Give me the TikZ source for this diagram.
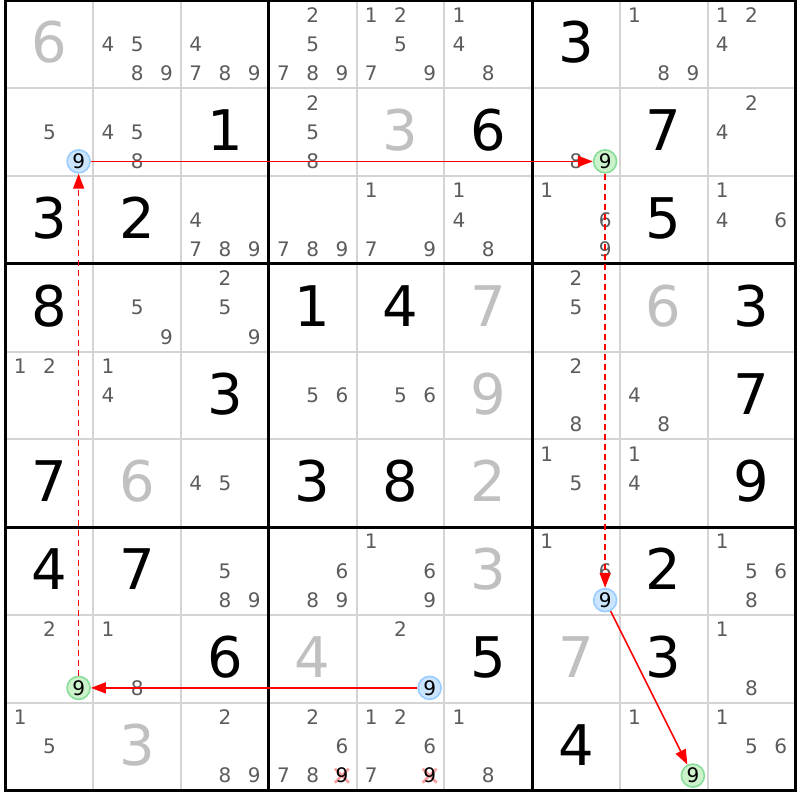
\documentclass[tikz,border=0pt]{standalone}
\usepackage{fontspec}
\setmainfont{DejaVu Sans}
\usetikzlibrary{arrows.meta}
\definecolor{givengray}{HTML}{C0C0C0}
\definecolor{candgray}{HTML}{5C5C5C}
\definecolor{gridgray}{HTML}{D4D4D4}
\definecolor{bluefill}{HTML}{CCE5FF}
\definecolor{blueedge}{HTML}{99CCFF}
\definecolor{greenfill}{HTML}{CCF2CC}
\definecolor{greenedge}{HTML}{88DD99}
\definecolor{xpink}{HTML}{F8A0A0}
\definecolor{linkred}{HTML}{FF0000}
\newcommand\cw{87.75}
\newcommand\gx{5.5}
\newcommand\gy{0.5}
\tikzset{
  bigdigit/.style={anchor=base, inner sep=0pt, font=\fontsize{56}{56}\selectfont},
  givendigit/.style={bigdigit, text=givengray},
  solveddigit/.style={bigdigit, text=black},
  canddigit/.style={anchor=base, inner sep=0pt, font=\fontsize{20}{20}\selectfont, text=candgray},
  elimdigit/.style={canddigit, text=black},
  hlblue/.style={circle, inner sep=0pt, minimum size=23pt, line width=1.6pt, draw=blueedge, fill=bluefill, font=\fontsize{20}{20}\selectfont, text=black},
  hlgreen/.style={hlblue, draw=greenedge, fill=greenfill},
  link/.style={draw=linkred, line width=1.6pt, -{Triangle[length=15pt,width=11pt]}},
  weaklink/.style={link, dash pattern=on 6pt off 4pt},
  thingrid/.style={gridgray, line width=2pt},
  thickgrid/.style={black, line width=3pt},
  elimx/.style={xpink, line width=2.5pt},
}
% big digit: style, row, col, digit
\newcommand\bigd[4]{\node[#1] (d-#2-#3) at ({\gx+(#3-0.5)*\cw},{\gy+(#2-1)*\cw+62.5}) {#4};}
% candidates: row, col, list
\newcommand\cand[3]{%
  \foreach \cd in {#3}{%
    \pgfmathtruncatemacro\subc{mod(\cd-1,3)}%
    \pgfmathtruncatemacro\subr{div(\cd-1,3)}%
    \node[canddigit] (c-#1-#2-\cd) at ({\gx+(#2-1)*\cw+\cw/6+\subc*\cw/3},{\gy+(#1-1)*\cw+\cw/6+\subr*\cw/3+7.3}) {\cd};
  }}
% highlighted candidate: style, name, row, col, digit
\newcommand\hlcand[5]{%
  \pgfmathtruncatemacro\subc{mod(#5-1,3)}%
  \pgfmathtruncatemacro\subr{div(#5-1,3)}%
  \node[#1] (#2) at ({\gx+(#4-1)*\cw+\cw/6+\subc*\cw/3},{\gy+(#3-1)*\cw+\cw/6+\subr*\cw/3}) {#5};}
% eliminated candidate: row, col, digit
\newcommand\elimcand[3]{%
  \pgfmathtruncatemacro\subc{mod(#3-1,3)}%
  \pgfmathtruncatemacro\subr{div(#3-1,3)}%
  \coordinate (x-#1-#2) at ({\gx+(#2-1)*\cw+\cw/6+\subc*\cw/3},{\gy+(#1-1)*\cw+\cw/6+\subr*\cw/3});
  \draw[elimx] (x-#1-#2) +(-7,-7) -- +(7,7) (x-#1-#2) +(-7,7) -- +(7,-7);
  \node[elimdigit] (e-#1-#2) at ({\gx+(#2-1)*\cw+\cw/6+\subc*\cw/3},{\gy+(#1-1)*\cw+\cw/6+\subr*\cw/3+7.3}) {#3};}
\begin{document}
\begin{tikzpicture}[x=1pt, y=-1pt]
\useasboundingbox (0,0) rectangle (800,800);
\fill[white] (0,0) rectangle (800,800);
% grid
\foreach \i in {1,...,8}{
  \draw[thingrid] ({\gx+\i*\cw},\gy) -- ({\gx+\i*\cw},{\gy+9*\cw});
  \draw[thingrid] (\gx,{\gy+\i*\cw}) -- ({\gx+9*\cw},{\gy+\i*\cw});
}
\foreach \i in {3,6}{
  \draw[thickgrid] ({\gx+\i*\cw},\gy) -- ({\gx+\i*\cw},{\gy+9*\cw});
  \draw[thickgrid] (\gx,{\gy+\i*\cw}) -- ({\gx+9*\cw},{\gy+\i*\cw});
}
\draw[thickgrid] (\gx,\gy) rectangle ({\gx+9*\cw},{\gy+9*\cw});
% given (gray) digits
\bigd{givendigit}{1}{1}{6}
\bigd{givendigit}{2}{5}{3}
\bigd{givendigit}{4}{6}{7}
\bigd{givendigit}{4}{8}{6}
\bigd{givendigit}{5}{6}{9}
\bigd{givendigit}{6}{2}{6}
\bigd{givendigit}{6}{6}{2}
\bigd{givendigit}{7}{6}{3}
\bigd{givendigit}{8}{4}{4}
\bigd{givendigit}{8}{7}{7}
\bigd{givendigit}{9}{2}{3}
% black digits
\bigd{solveddigit}{1}{7}{3}
\bigd{solveddigit}{2}{3}{1}
\bigd{solveddigit}{2}{6}{6}
\bigd{solveddigit}{2}{8}{7}
\bigd{solveddigit}{3}{1}{3}
\bigd{solveddigit}{3}{2}{2}
\bigd{solveddigit}{3}{8}{5}
\bigd{solveddigit}{4}{1}{8}
\bigd{solveddigit}{4}{4}{1}
\bigd{solveddigit}{4}{5}{4}
\bigd{solveddigit}{4}{9}{3}
\bigd{solveddigit}{5}{3}{3}
\bigd{solveddigit}{5}{9}{7}
\bigd{solveddigit}{6}{1}{7}
\bigd{solveddigit}{6}{4}{3}
\bigd{solveddigit}{6}{5}{8}
\bigd{solveddigit}{6}{9}{9}
\bigd{solveddigit}{7}{1}{4}
\bigd{solveddigit}{7}{2}{7}
\bigd{solveddigit}{7}{8}{2}
\bigd{solveddigit}{8}{3}{6}
\bigd{solveddigit}{8}{6}{5}
\bigd{solveddigit}{8}{8}{3}
\bigd{solveddigit}{9}{7}{4}
% candidates
\cand{1}{2}{4,5,8,9}
\cand{1}{3}{4,7,8,9}
\cand{1}{4}{2,5,7,8,9}
\cand{1}{5}{1,2,5,7,9}
\cand{1}{6}{1,4,8}
\cand{1}{8}{1,8,9}
\cand{1}{9}{1,2,4}
\cand{2}{1}{5}
\cand{2}{2}{4,5,8}
\cand{2}{4}{2,5,8}
\cand{2}{7}{8}
\cand{2}{9}{2,4}
\cand{3}{3}{4,7,8,9}
\cand{3}{4}{7,8,9}
\cand{3}{5}{1,7,9}
\cand{3}{6}{1,4,8}
\cand{3}{7}{1,6,9}
\cand{3}{9}{1,4,6}
\cand{4}{2}{5,9}
\cand{4}{3}{2,5,9}
\cand{4}{7}{2,5}
\cand{5}{1}{1,2}
\cand{5}{2}{1,4}
\cand{5}{4}{5,6}
\cand{5}{5}{5,6}
\cand{5}{7}{2,8}
\cand{5}{8}{4,8}
\cand{6}{3}{4,5}
\cand{6}{7}{1,5}
\cand{6}{8}{1,4}
\cand{7}{3}{5,8,9}
\cand{7}{4}{6,8,9}
\cand{7}{5}{1,6,9}
\cand{7}{7}{1,6}
\cand{7}{9}{1,5,6,8}
\cand{8}{1}{2}
\cand{8}{2}{1,8}
\cand{8}{5}{2}
\cand{8}{9}{1,8}
\cand{9}{1}{1,5}
\cand{9}{3}{2,8,9}
\cand{9}{4}{2,6,7,8}
\cand{9}{5}{1,2,6,7}
\cand{9}{6}{1,8}
\cand{9}{8}{1}
\cand{9}{9}{1,5,6}
% eliminated candidates
\elimcand{9}{4}{9}
\elimcand{9}{5}{9}
% chain links
\hlcand{hlblue}{h21}{2}{1}{9}
\hlcand{hlgreen}{h27}{2}{7}{9}
\hlcand{hlblue}{h77}{7}{7}{9}
\hlcand{hlgreen}{h98}{9}{8}{9}
\hlcand{hlblue}{h85}{8}{5}{9}
\hlcand{hlgreen}{h81}{8}{1}{9}
\draw[link] (h21) -- (h27);
\draw[weaklink] (h27) -- (h77);
\draw[link] (h77) -- (h98);
\draw[link] (h85) -- (h81);
\draw[weaklink] (h81) -- (h21);
\end{tikzpicture}
\end{document}
